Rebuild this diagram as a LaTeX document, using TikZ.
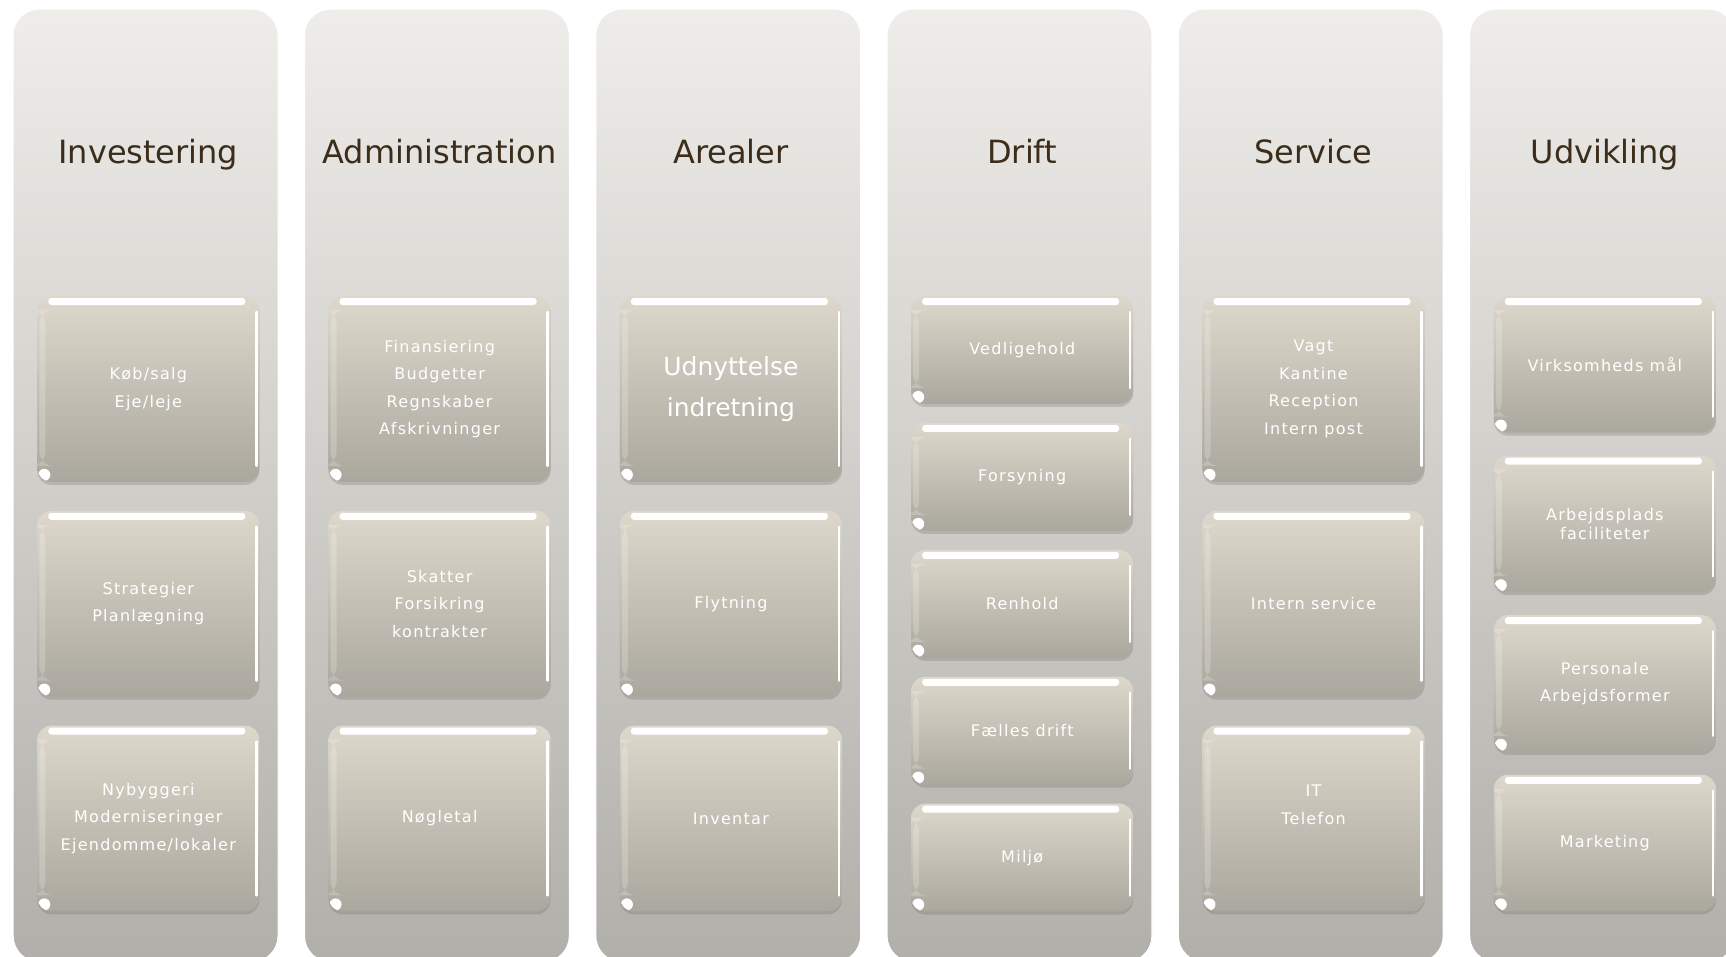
\documentclass[tikz,border=0pt]{standalone}
\usepackage{fontspec}
\setmainfont{DejaVu Sans}
\newfontfamily\itemfont{DejaVu Sans}[LetterSpace=8]
\usetikzlibrary{shadows}

\definecolor{paneltop}{HTML}{EEEDE9}
\definecolor{panelbot}{HTML}{B1AFAA}
\definecolor{itemtop}{HTML}{DDD8CB}
\definecolor{itembot}{HTML}{AAA79E}
\definecolor{headtext}{HTML}{3B2D1A}

\begin{document}
\begin{tikzpicture}[x=1pt,y=-1pt,
  panel/.style={rounded corners=26pt, top color=paneltop, bottom color=panelbot,
    draw=white, line width=1.2pt, minimum width=265pt, minimum height=953pt, inner sep=0pt},
  heading/.style={anchor=base, text=headtext, font=\fontsize{32}{38}\selectfont},
  item/.style={rounded corners=14pt, top color=itemtop, bottom color=itembot,
    minimum width=222pt, inner sep=0pt, text=white, align=center,
    font=\itemfont\fontsize{16}{27.5}\selectfont,
    drop shadow={shadow xshift=0pt, shadow yshift=-3pt, opacity=0.25, fill=black!60},
    path picture={
      \fill[white, rounded corners=3pt] ([xshift=11pt,yshift=-2pt]path picture bounding box.north west)
        rectangle ([xshift=-14pt,yshift=-9pt]path picture bounding box.north east);
      \draw[white, line width=2.5pt, line cap=round] ([xshift=-3pt,yshift=-16pt]path picture bounding box.north east)
        -- ([xshift=-3pt,yshift=16pt]path picture bounding box.south east);
      \fill[white, opacity=0.2] ([xshift=2pt,yshift=-14pt]path picture bounding box.north west)
        rectangle ([xshift=8pt,yshift=16pt]path picture bounding box.south west);
      \fill[white] ([xshift=7pt,yshift=7pt]path picture bounding box.south west) circle (6pt);
    }},
  big/.style={minimum height=185.8pt},
  mid/.style={minimum height=136.6pt},
  small/.style={minimum height=107.9pt}
]
\useasboundingbox (0,0) rectangle (1726,956);
\fill [white] (0,0) rectangle (1726,956);
\clip (0,0) rectangle (1726,956);

% panels
\node [panel] (invest) at (145.6,485.5) {};
\node [panel] (admin) at (436.9,485.5) {};
\node [panel] (areal) at (728.2,485.5) {};
\node [panel] (drift) at (1019.5,485.5) {};
\node [panel] (service) at (1310.8,485.5) {};
\node [panel] (udvik) at (1602.1,485.5) {};

% headings
\node [heading] (investHead) at (148.3,163) {Investering};
\node [heading] (adminHead) at (439.6,163) {Administration};
\node [heading] (arealHead) at (730.9,163) {Arealer};
\node [heading] (driftHead) at (1022.2,163) {Drift};
\node [heading] (serviceHead) at (1313.5,163) {Service};
\node [heading] (udvikHead) at (1604.8,163) {Udvikling};

% Investering
\node [item,big] (invest1) at (148.3,388.9) {Køb/salg\\Eje/leje};
\node [item,big] (invest2) at (148.3,603.7) {Strategier\\Planlægning};
\node [item,big] (invest3) at (148.3,818.5) {Nybyggeri\\Moderniseringer\\Ejendomme/lokaler};

% Administration
\node [item,big] (admin1) at (439.6,388.9) {Finansiering\\Budgetter\\Regnskaber\\Afskrivninger};
\node [item,big] (admin2) at (439.6,603.7) {Skatter\\Forsikring\\kontrakter};
\node [item,big] (admin3) at (439.6,818.5) {Nøgletal};

% Arealer
\node [item,big,font=\fontsize{25}{40.7}\selectfont] (areal1) at (730.9,388.9) {Udnyttelse\\indretning};
\node [item,big] (areal2) at (730.9,603.7) {Flytning};
\node [item,big] (areal3) at (730.9,818.5) {Inventar};

% Drift
\node [item,small] (drift1) at (1022.2,350) {Vedligehold};
\node [item,small] (drift2) at (1022.2,476.9) {Forsyning};
\node [item,small] (drift3) at (1022.2,603.8) {Renhold};
\node [item,small] (drift4) at (1022.2,730.7) {Fælles drift};
\node [item,small] (drift5) at (1022.2,857.6) {Miljø};

% Service
\node [item,big] (service1) at (1313.5,388.9) {Vagt\\Kantine\\Reception\\Intern post};
\node [item,big] (service2) at (1313.5,603.7) {Intern service};
\node [item,big] (service3) at (1313.5,818.5) {IT\\Telefon\\\mbox{}};

% Udvikling
\node [item,mid] (udvik1) at (1604.8,364.3) {Virksomheds mål};
\node [item,mid] (udvik2) at (1604.8,523.9) {Arbejdsplads\\[-8pt]faciliteter};
\node [item,mid] (udvik3) at (1604.8,683.5) {Personale\\Arbejdsformer};
\node [item,mid] (udvik4) at (1604.8,843.1) {Marketing};
\end{tikzpicture}
\end{document}
